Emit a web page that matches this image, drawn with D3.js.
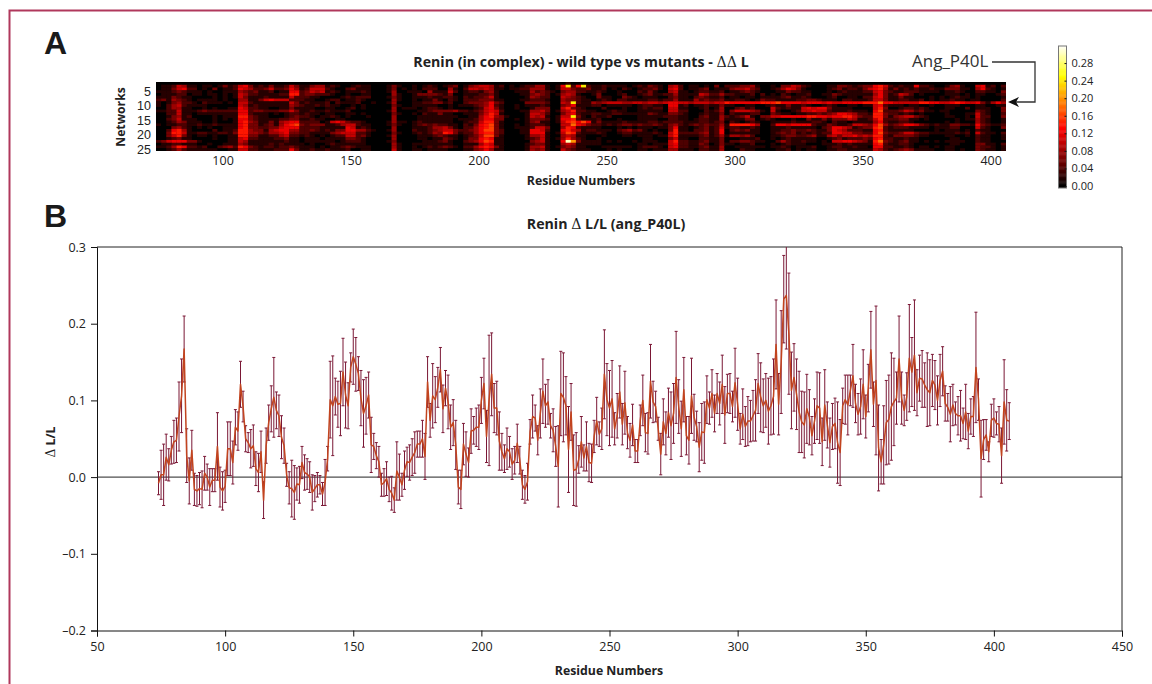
<!DOCTYPE html>
<html>
<head>
<meta charset="utf-8">
<script src="https://d3js.org/d3.v7.min.js"></script>
<style>
  html, body { margin: 0; padding: 0; background: #fff; }
  text { font-family: "Open Sans", sans-serif; fill: #222; }
  .bold { font-weight: 700; }
  .delta { font-family: "DejaVu Serif", serif; font-weight: 400; }
  .axis path, .axis line { stroke: #111; }
  .axis text { font-family: "Open Sans", sans-serif; font-size: 12.5px; fill: #222; }
</style>
</head>
<body>
<svg id="fig" width="1152" height="684"></svg>
<script>
// Panel B, residue 74 upward, one value per residue (units of 0.001)
const deltaMilli = [
  -8,3,3,26,16,35,46,48,79,106,
  167,28,-5,35,-16,-18,-15,-16,5,0,
  -13,-4,-4,40,-13,-18,-12,37,37,19,
  65,60,121,92,50,45,37,41,11,6,
  33,-30,41,71,89,104,87,80,52,41,
  3,-14,-15,-20,-9,-10,19,6,4,0,
  -20,-15,-10,-10,-22,-7,24,101,93,105,
  95,96,137,107,93,143,157,147,135,103,
  83,93,107,42,40,28,20,-10,-7,-2,
  -16,-21,-30,8,0,-10,9,20,19,26,
  32,43,43,50,27,124,74,106,101,117,
  140,89,116,98,65,71,42,-13,-16,43,
  30,19,60,61,65,65,100,122,53,100,
  134,90,90,47,33,24,37,33,17,22,
  44,22,-10,-16,-6,59,79,77,48,83,
  112,93,98,67,61,40,14,109,104,93,
  36,85,9,10,23,46,25,40,19,18,
  53,73,56,63,134,101,90,102,63,80,
  111,69,97,58,48,68,34,34,74,100,
  58,57,125,98,92,63,30,72,57,84,
  67,83,130,92,63,114,54,48,106,78,
  66,39,59,58,101,90,109,83,109,96,
  121,81,109,109,92,123,95,63,82,66,
  73,73,80,87,122,104,93,100,86,93,
  105,173,95,150,232,237,187,113,130,108,
  85,72,68,89,78,54,73,93,90,46,
  94,68,45,66,70,45,32,93,101,94,
  113,132,96,82,92,121,79,116,166,95,
  126,38,20,42,71,75,92,98,103,154,
  103,87,105,155,137,159,110,129,128,120,
  114,110,126,120,100,126,138,96,91,82,
  94,83,80,80,70,85,60,79,79,143,
  101,24,49,55,33,74,77,70,69,28,
  98,74,73
]
const errMilli = [
  15,32,40,30,21,18,28,29,45,48,
  43,35,30,26,21,20,21,24,22,17,
  24,15,15,44,26,25,21,35,35,28,
  23,25,30,20,17,13,25,27,22,25,
  27,24,23,23,30,52,24,27,28,23,
  15,21,37,35,21,24,21,23,20,20,
  23,17,16,12,15,30,16,50,65,24,
  30,42,44,43,30,19,36,35,22,36,
  44,37,30,36,17,17,20,15,18,22,
  16,22,16,38,30,15,25,19,23,24,
  27,17,17,24,30,33,22,42,30,26,
  29,31,23,35,29,30,32,22,25,27,
  29,19,29,18,25,29,30,33,34,85,
  54,32,35,38,24,18,27,20,20,18,
  25,18,19,18,24,16,28,17,19,32,
  42,28,29,16,28,26,53,55,58,38,
  56,37,46,48,18,33,17,32,25,25,
  21,31,16,27,58,47,49,50,21,29,
  34,27,41,21,22,27,15,15,20,33,
  25,27,48,27,20,15,27,30,28,32,
  44,39,60,35,36,42,25,31,49,30,
  20,32,37,40,31,21,31,24,26,28,
  38,37,25,26,20,45,34,20,33,26,
  32,27,33,40,39,45,35,35,43,38,
  49,58,40,67,57,70,79,50,44,46,
  53,40,43,45,36,25,29,44,46,31,
  46,30,32,30,33,53,43,23,32,39,
  20,41,25,27,36,45,28,31,50,29,
  97,56,29,51,55,58,70,57,34,56,
  34,20,31,70,45,72,30,30,37,29,
  48,43,34,32,32,34,32,23,18,36,
  27,15,25,33,20,36,23,23,26,72,
  27,50,26,20,13,21,25,15,23,36,
  55,40,24
]

// Panel A, 25 networks, one hex digit per 2 residues (digit x 0.02 = value)
const heatRows = [
  '0000000000 0000000000 0000000000 0000000000 0000000000 0000000000 0000000000 0000000000 1000000000 0000000000 0000000000 0000000000 0000000000 0000000000 0000000000 0000000000 000000',
  '0112541101 1013125631 2131125311 3441210012 1100013100 1012101230 1345541201 0122441016 c26c211211 1101213210 4520110103 0222334100 1033542100 0113321233 6752121162 2100134100 561202',
  '0113562201 0301126542 2352236412 5552100231 1100013010 1022200410 2554541101 1224441015 5322311201 0210122310 5620112301 1134453200 1246531000 0123122135 6741312121 1211333110 462101',
  '1112321110 1001114323 1120116623 5451210111 2100014001 1104111520 1221341000 1114232103 4422112100 1000213100 4511012211 2011232100 0113221100 0101211122 5632112221 1110112100 221103',
  '0111220110 1101015422 1111227723 3222100100 1100004100 1333321300 1112231000 0113432014 5410013000 1200123112 2411115422 4221112020 1021011200 1132111111 4631254201 0000111010 110012',
  '1113211000 0101015311 1211115222 1100001212 2200013100 1112112210 2122351000 0014322005 4321003110 0321011100 2311023211 2011011011 1123112100 0120011022 5631131100 0101012110 100001',
  '2314321011 1101004411 3565552221 1001220112 1000004100 1011310210 2223331100 0112221004 3321101210 2211112212 2411142322 3112210132 2111122332 1110221112 5531122112 0101121101 100002',
  '1013422102 1110105521 1111115312 1112021112 0010014000 1122331200 2333463200 0033332005 4c21143455 5445545545 6655455545 5766666677 7866665666 5655666677 7966555557 7665567655 631464',
  '1024521111 0000005412 1111114321 1212110010 1000003100 1111100101 1123462100 1011121003 4611122011 1110122110 6612011211 3110011001 2113112100 1210011011 5621110110 0100111000 110011',
  '0024411001 0100116522 1100113111 1001100120 1000004011 1012210100 0012563100 1001333005 7321000200 0100121220 5511001201 4002312000 5212115656 6311110000 5730012212 1000110020 111003',
  '1122511123 2222226623 3222335311 2112111200 0000014000 0112333342 2123565200 0114453014 5722110012 1100111110 5522000212 4035554310 5100125565 5211121110 6822235423 1101100000 321003',
  '0022511011 1111116621 1101012212 1101100110 1000003100 1021131100 1113575100 0015542003 5621122112 2111113211 3321001211 3021112200 3211011223 2346654221 7732212101 0000100011 521002',
  '0013412000 0101117732 1100012322 1011210100 0100004000 0111111110 0114674310 0015451015 5c31021120 0000111112 2211002311 4212351033 5566666776 6566775322 7731345532 1000110010 522003',
  '0023511100 0101016632 1111223311 2110011000 0000004000 0111111101 1124663300 1013332016 6721112000 1000111100 2211012211 4111133012 1000100311 3133354112 5722233110 1000001011 421001',
  '0012431110 0100016743 1131456622 2201565322 1000014110 1211111100 1225773100 0013411015 7868613111 1211112212 2221112212 3021012100 1111211122 1021101111 4621122100 0000101000 421001',
  '1011221121 1211116733 1231467832 3331124552 1100013100 1232322110 2136783100 1012221005 5965322121 2332322321 3421232322 4177776400 2665666621 1321125543 6842346653 2121133221 632112',
  '0003421010 1001116733 2233566622 2211111651 2100004000 1112445310 2246783100 1112553004 7621111000 1010111011 3611012312 5122112100 1112111110 2366541233 7821222111 1011122000 521003',
  '0026741000 0201127743 3145664422 3212133664 4210014000 2112345532 2346883200 0116652006 7541221110 2342310100 3711022312 6023231100 1122322321 1365422211 6721111100 0010111010 211000',
  '0037751122 1122137744 3244563322 1111345552 2100003100 1212437631 2246773200 0116661015 8721112100 1221111210 5722223412 6011111100 1232312121 2266553322 6832235532 2111112120 521102',
  '0035731011 0100117733 1122452212 1010122552 3100014000 0111232110 1235883100 0014451004 5411000100 0110111011 5711112312 4144342000 1123322341 1453556454 7721333321 1000110010 211001',
  '0012311000 0100115622 1112231101 1101111332 1000004000 0110113210 1336761100 0012351014 7421001000 0000011000 3511002211 3000111200 1012111110 0123122232 6722112110 0000011000 211001',
  '2356663310 0000115411 1111121101 1111101222 1000013000 0011123100 2346871100 0003451006 fa31111010 1001011100 5722112311 3022332110 0242112110 1055665431 7932123110 1010111100 211000',
  '0112211100 1001114311 1121211110 1001211111 1000004100 1111111100 1114651100 0012331004 5411111000 0000110111 5622113201 3110112000 1012111000 1112121111 6721122100 0000011000 331102',
  '1124762212 0023427632 1221223211 1010112321 1100004100 1012123210 2246763100 0014451013 4311000111 1110122210 5622112311 4001111110 1121011120 0122112110 6622112101 1010110000 322101',
  '0012421111 1100115522 1112226311 2112111200 1100005100 1101111000 1134641100 0014341005 3211100010 1000110111 4411102211 4000211000 0112010110 0112211111 5421234311 1100110100 321101'
].map(d => d.replace(/ /g, ''))

const netTicks = [5, 10, 15, 20, 25]
const heatTicks = [100, 150, 200, 250, 300, 350, 400]
const barTicks = [0, 0.04, 0.08, 0.12, 0.16, 0.20, 0.24, 0.28]
const lineXTicks = [50, 100, 150, 200, 250, 300, 350, 400, 450]
const lineYTicks = [-0.2, -0.1, 0, 0.1, 0.2, 0.3]

const firstResidue = 74
const series = deltaMilli.map((d, i) => ({
  residue: firstResidue + i,
  value: d / 1000,
  err: errMilli[i] / 1000
}))

const svg = d3.select('#fig')

// frame
svg.append('path')
  .attr('d', 'M1152,10.5H9.5V684')
  .attr('fill', 'none').attr('stroke', '#b0385c').attr('stroke-width', 2)

svg.append('text').attr('class', 'bold').attr('x', 44).attr('y', 54)
  .style('font-family', '"Liberation Sans", Arial, sans-serif').style('font-size', '32px').style('fill', '#1a1a1a').text('A')
svg.append('text').attr('class', 'bold').attr('x', 44).attr('y', 227)
  .style('font-family', '"Liberation Sans", Arial, sans-serif').style('font-size', '32px').style('fill', '#1a1a1a').text('B')

// ---- panel A ----
const hotScale = d3.scaleLinear()
  .domain([0, 0.13, 0.25, 0.32])
  .range(['#000000', '#ff0000', '#ffff00', '#ffffff'])
  .clamp(true)

const heatX = d3.scaleLinear().domain([74, 406]).range([156, 1006])
const heatY = d3.scaleBand().domain(d3.range(1, 26)).range([82, 151])
const netY = d3.scaleLinear().domain([5, 25]).range([91, 149.5])

const heatCells = []
heatRows.forEach((row, r) => {
  row.split('').forEach((ch, c) => {
    heatCells.push({ net: r + 1, residue: firstResidue + c * 2, value: parseInt(ch, 16) * 0.02 })
  })
})

const defs = svg.append('defs')
defs.append('filter').attr('id', 'soft').attr('x', 0).attr('y', 0).attr('width', 1).attr('height', 1)
  .append('feGaussianBlur').attr('stdDeviation', 0.5)
defs.append('clipPath').attr('id', 'heatClip').append('rect')
  .attr('x', 156).attr('y', 82).attr('width', 850).attr('height', 69)

svg.append('rect').attr('x', 156).attr('y', 82).attr('width', 850).attr('height', 69).attr('fill', '#000')
svg.append('g').attr('clip-path', 'url(#heatClip)')
  .append('g').attr('filter', 'url(#soft)')
  .selectAll('rect').data(heatCells).join('rect')
  .attr('x', d => heatX(d.residue))
  .attr('y', d => heatY(d.net))
  .attr('width', heatX(76) - heatX(74) + 0.3)
  .attr('height', heatY.bandwidth() + 0.3)
  .attr('fill', d => hotScale(d.value))

const heatAxisX = svg.append('g').attr('class', 'axis')
  .attr('transform', 'translate(0,151)')
  .call(d3.axisBottom(heatX).tickValues(heatTicks).tickSize(0).tickPadding(5))
heatAxisX.select('.domain').remove()

const heatAxisY = svg.append('g').attr('class', 'axis')
  .attr('transform', 'translate(156,0)')
  .call(d3.axisLeft(netY).tickValues(netTicks).tickSize(0).tickPadding(5))
heatAxisY.select('.domain').remove()
// labels sit close together here, the narrower line box keeps them apart
heatAxisY.selectAll('text').style('font-family', '"Liberation Sans", sans-serif').style('font-size', '12.5px')

const titleA = svg.append('text').attr('class', 'bold').attr('x', 581).attr('y', 67).attr('text-anchor', 'middle')
  .style('font-size', '14.2px')
titleA.append('tspan').text('Renin (in complex) - wild type vs mutants - ')
titleA.append('tspan').attr('class', 'delta').text('\u0394\u0394')
titleA.append('tspan').text(' L')
svg.append('text').attr('class', 'bold').attr('x', 581).attr('y', 185).attr('text-anchor', 'middle')
  .style('font-size', '12.3px').text('Residue Numbers')
svg.append('text').attr('class', 'bold').attr('transform', 'translate(125,117) rotate(-90)').attr('text-anchor', 'middle')
  .style('font-size', '12.2px').text('Networks')

// mutant label and arrow
svg.append('text').attr('x', 912).attr('y', 67).style('font-size', '17px').style('fill', '#333').text('Ang_P40L')
svg.append('path').attr('d', 'M992,62H1035V102H1014')
  .attr('fill', 'none').attr('stroke', '#333').attr('stroke-width', 1.3)
svg.append('path').attr('d', 'M1008,102L1019,97L1016,102L1019,107Z').attr('fill', '#111')

// colour bar
const barY = d3.scaleLinear().domain([0, 0.32]).range([186, 45.5])
const barSteps = d3.range(-0.004, 0.32, 0.002)
svg.append('g').selectAll('rect').data(barSteps).join('rect')
  .attr('x', 1058.5).attr('width', 8)
  .attr('y', d => barY(d + 0.002) - 0.2)
  .attr('height', barY(0) - barY(0.002) + 0.4)
  .attr('fill', d => hotScale(d))
svg.append('rect').attr('x', 1058.5).attr('y', 46).attr('width', 8).attr('height', 142)
  .attr('fill', 'none').attr('stroke', '#777').attr('stroke-width', 1)
const barAxis = svg.append('g').attr('class', 'axis')
  .attr('transform', 'translate(1066.5,0)')
  .call(d3.axisRight(barY).tickValues(barTicks).tickSize(-2).tickPadding(5).tickFormat(d3.format('.2f')))
barAxis.select('.domain').remove()
barAxis.selectAll('text').style('font-size', '11px')

// ---- panel B ----
const x = d3.scaleLinear().domain([50, 450]).range([97, 1122])
const y = d3.scaleLinear().domain([-0.2, 0.3]).range([630.5, 247])

const titleB = svg.append('text').attr('class', 'bold').attr('x', 606).attr('y', 229).attr('text-anchor', 'middle')
  .style('font-size', '14.2px')
titleB.append('tspan').text('Renin ')
titleB.append('tspan').attr('class', 'delta').text('\u0394')
titleB.append('tspan').text(' L/L (ang_P40L)')

// top and right border
svg.append('path').attr('d', `M${x(50)},${y(0.3)}H${x(450)}V${y(-0.2)}`)
  .attr('fill', 'none').attr('stroke', '#222').attr('stroke-width', 1)

const xAxis = d3.axisBottom(x).tickValues(lineXTicks).tickSizeOuter(0).tickSize(6).tickPadding(6)
const yAxis = d3.axisLeft(y).tickValues(lineYTicks).tickSizeOuter(0).tickSize(6).tickPadding(5)
  .tickFormat(d => d < 0 ? '\u2013' + d3.format('.1f')(-d) : d3.format('.1f')(d))
svg.append('g').attr('class', 'axis').attr('transform', `translate(0,${y(-0.2)})`).call(xAxis)
svg.append('g').attr('class', 'axis').attr('transform', `translate(${x(50)},0)`).call(yAxis)

svg.append('line').attr('x1', x(50)).attr('x2', x(450)).attr('y1', y(0)).attr('y2', y(0))
  .attr('stroke', '#222').attr('stroke-width', 1)

defs.append('clipPath').attr('id', 'plotClip').append('rect')
  .attr('x', x(50)).attr('y', y(0.3)).attr('width', x(450) - x(50)).attr('height', y(-0.2) - y(0.3))
const plot = svg.append('g').attr('clip-path', 'url(#plotClip)')

const errColor = '#7a1735'
plot.selectAll('.err').data(series).join('line').attr('class', 'err')
  .attr('x1', d => x(d.residue)).attr('x2', d => x(d.residue))
  .attr('y1', d => y(d.value + d.err)).attr('y2', d => y(d.value - d.err))
  .attr('stroke', errColor).attr('stroke-width', 1)
plot.selectAll('.capTop').data(series).join('line').attr('class', 'capTop')
  .attr('x1', d => x(d.residue) - 1.5).attr('x2', d => x(d.residue) + 1.5)
  .attr('y1', d => y(d.value + d.err)).attr('y2', d => y(d.value + d.err))
  .attr('stroke', errColor).attr('stroke-width', 1)
plot.selectAll('.capBot').data(series).join('line').attr('class', 'capBot')
  .attr('x1', d => x(d.residue) - 1.5).attr('x2', d => x(d.residue) + 1.5)
  .attr('y1', d => y(d.value - d.err)).attr('y2', d => y(d.value - d.err))
  .attr('stroke', errColor).attr('stroke-width', 1)

const line = d3.line().x(d => x(d.residue)).y(d => y(d.value))
plot.append('path').datum(series).attr('d', line)
  .attr('fill', 'none').attr('stroke', '#c2441f').attr('stroke-width', 1.5).attr('stroke-linejoin', 'round')

svg.append('text').attr('class', 'bold').attr('x', 609).attr('y', 675).attr('text-anchor', 'middle')
  .style('font-size', '12.3px').text('Residue Numbers')
const yLabel = svg.append('text').attr('class', 'bold').attr('transform', 'translate(55,442) rotate(-90)').attr('text-anchor', 'middle')
  .style('font-size', '12.3px')
yLabel.append('tspan').attr('class', 'delta').text('\u0394')
yLabel.append('tspan').text(' L/L')
</script>
</body>
</html>
